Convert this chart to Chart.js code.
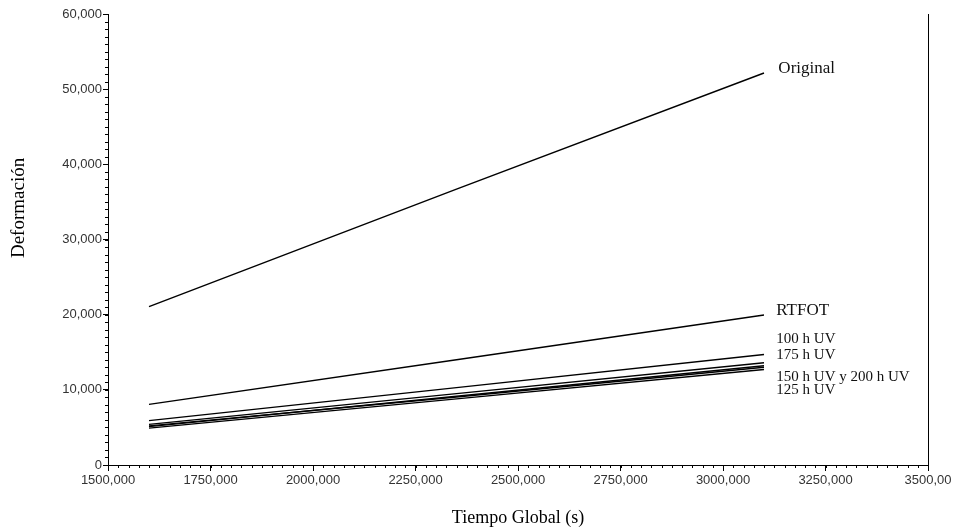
<!DOCTYPE html>
<html>
<head>
<meta charset="utf-8">
<script src="https://cdn.jsdelivr.net/npm/chart.js@4"></script>
<style>
  html, body { margin: 0; padding: 0; background: #fff; }
  #wrap { width: 957px; height: 532px; position: relative; }
</style>
</head>
<body>
<div id="wrap"><canvas id="chart"></canvas></div>
<script>
// ---- data ----
var tiempo = [1600, 2350, 3100];
var original = [21060, 36700, 52150];
var rtfot = [8070, 14000, 19950];
var uv100 = [5900, 10300, 14700];
var uv175 = [5400, 9500, 13600];
var uv200 = [5100, 9150, 13200];
var uv150 = [5200, 9050, 13000];
var uv125 = [4900, 8800, 12700];

var xTicks = ['1500,000', '1750,000', '2000,000', '2250,000', '2500,000', '2750,000', '3000,000', '3250,000', '3500,00'];
var yTicks = ['0', '10,000', '20,000', '30,000', '40,000', '50,000', '60,000'];

// labels at the right end of the lines (data coordinates)
var seriesLabels = [
  { text: 'Original', x: 3135, y: 52800, size: 17 },
  { text: 'RTFOT', x: 3130, y: 20600, size: 17 },
  { text: '100 h UV', x: 3130, y: 16750, size: 15 },
  { text: '175 h UV', x: 3130, y: 14600, size: 15 },
  { text: '150 h UV y 200 h UV', x: 3130, y: 11700, size: 15 },
  { text: '125 h UV', x: 3130, y: 9950, size: 15 }
];

function pts(ys) {
  return ys.map(function(v, i) { return { x: tiempo[i], y: v }; });
}

function line(name, ys) {
  return { label: name, data: pts(ys), borderColor: '#000', borderWidth: 1.4, pointRadius: 0, fill: false, tension: 0 };
}

// minor ticks, series labels, right frame line, y title
var extras = {
  id: 'extras',
  afterDraw: function(chart) {
    var ctx = chart.ctx, xs = chart.scales.x, ys = chart.scales.y, a = chart.chartArea;
    ctx.save();
    ctx.strokeStyle = '#000';
    ctx.lineWidth = 1;
    ctx.beginPath();
    for (var v = 1500; v <= 3500; v += 25) {
      var px = Math.round(xs.getPixelForValue(v)) + 0.5;
      ctx.moveTo(px, a.bottom); ctx.lineTo(px, a.bottom + 3);
    }
    for (var w = 0; w <= 60000; w += 1000) {
      var py = Math.round(ys.getPixelForValue(w)) + 0.5;
      ctx.moveTo(a.left, py); ctx.lineTo(a.left - 3, py);
    }
    var rx = Math.round(a.right) + 0.5;
    ctx.moveTo(rx, a.top); ctx.lineTo(rx, a.bottom);
    ctx.stroke();

    ctx.fillStyle = '#111';
    ctx.textBaseline = 'middle';
    ctx.textAlign = 'left';
    seriesLabels.forEach(function(l) {
      ctx.font = l.size + 'px "Liberation Serif", "Times New Roman", serif';
      ctx.fillText(l.text, xs.getPixelForValue(l.x), ys.getPixelForValue(l.y));
    });

    // y axis title sits a bit above the middle of the axis
    ctx.fillStyle = '#000';
    ctx.font = '19px "Liberation Serif", "Times New Roman", serif';
    ctx.textAlign = 'center';
    ctx.translate(19, a.top + (a.bottom - a.top) * 0.43);
    ctx.rotate(-Math.PI / 2);
    ctx.fillText('Deformación', 0, 0);
    ctx.restore();
  }
};

new Chart(document.getElementById('chart'), {
  type: 'line',
  data: {
    datasets: [
      line('Original', original),
      line('RTFOT', rtfot),
      line('100 h UV', uv100),
      line('175 h UV', uv175),
      line('200 h UV', uv200),
      line('150 h UV', uv150),
      line('125 h UV', uv125)
    ]
  },
  options: {
    responsive: true,
    maintainAspectRatio: false,
    animation: false,
    layout: { padding: { top: 14, right: 29, left: 0, bottom: 0 } },
    plugins: { legend: { display: false }, tooltip: { enabled: false } },
    scales: {
      x: {
        type: 'linear',
        min: 1500, max: 3500,
        afterFit: function(s) { s.height = 67; },
        afterBuildTicks: function(s) {
          s.ticks = xTicks.map(function(t, i) { return { value: 1500 + i * 250 }; });
        },
        ticks: {
          color: '#333',
          font: { family: '"Liberation Sans", Arial, sans-serif', size: 13 },
          maxRotation: 0,
          autoSkip: false,
          padding: 2,
          callback: function(v, i) { return xTicks[i]; }
        },
        grid: { drawOnChartArea: false, drawTicks: true, tickLength: 6, color: '#000' },
        border: { display: true, color: '#000', width: 1 },
        title: {
          display: true,
          text: 'Tiempo Global (s)',
          color: '#000',
          font: { family: '"Liberation Serif", "Times New Roman", serif', size: 18 },
          padding: { top: 0, bottom: 3 }
        }
      },
      y: {
        min: 0, max: 60000,
        afterFit: function(s) { s.width = 108; },
        afterBuildTicks: function(s) {
          s.ticks = yTicks.map(function(t, i) { return { value: i * 10000 }; });
        },
        ticks: {
          color: '#333',
          font: { family: '"Liberation Sans", Arial, sans-serif', size: 13 },
          padding: 1,
          autoSkip: false,
          callback: function(v, i) { return yTicks[i]; }
        },
        grid: { drawOnChartArea: false, drawTicks: true, tickLength: 5, color: '#000' },
        border: { display: true, color: '#000', width: 1 }
      }
    }
  },
  plugins: [extras]
});
</script>
</body>
</html>
